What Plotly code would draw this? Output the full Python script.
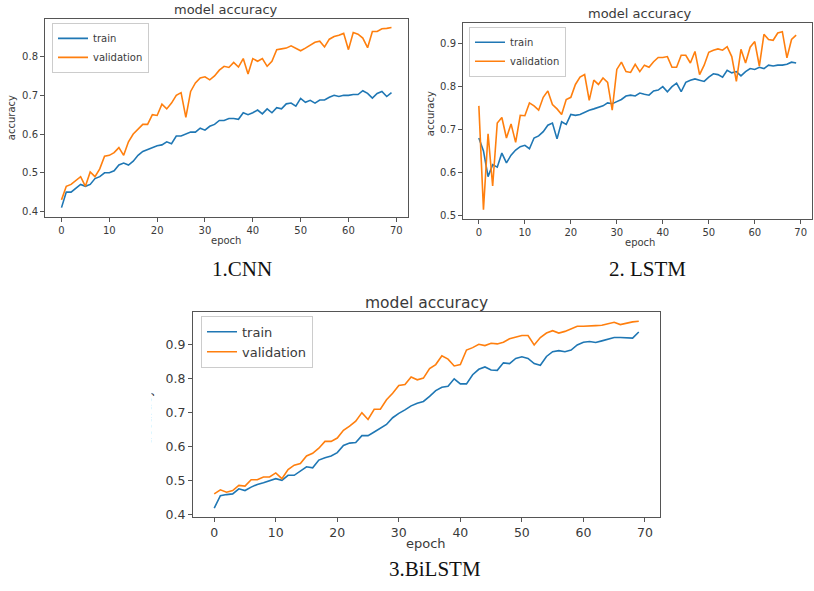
import plotly.graph_objects as go

W, H = 814, 591

epochs = list(range(70))

cnn_train = [0.41, 0.45, 0.45, 0.46, 0.47, 0.465, 0.47, 0.485, 0.49, 0.50,
             0.50, 0.505, 0.52, 0.525, 0.52, 0.53, 0.545, 0.555, 0.56, 0.565,
             0.57, 0.572, 0.58, 0.575, 0.595, 0.595, 0.60, 0.605, 0.605, 0.615,
             0.61, 0.62, 0.625, 0.635, 0.635, 0.64, 0.64, 0.638, 0.655, 0.65,
             0.655, 0.662, 0.652, 0.665, 0.655, 0.668, 0.665, 0.678, 0.68, 0.672,
             0.692, 0.682, 0.687, 0.68, 0.688, 0.688, 0.695, 0.70, 0.697, 0.70,
             0.70, 0.702, 0.702, 0.712, 0.705, 0.693, 0.705, 0.71, 0.697, 0.707]
cnn_val = [0.43, 0.465, 0.47, 0.48, 0.49, 0.465, 0.502, 0.49, 0.51, 0.543,
           0.545, 0.552, 0.565, 0.545, 0.58, 0.60, 0.612, 0.625, 0.625, 0.65,
           0.648, 0.677, 0.665, 0.68, 0.70, 0.707, 0.643, 0.71, 0.732, 0.745,
           0.748, 0.74, 0.75, 0.765, 0.775, 0.772, 0.785, 0.773, 0.795, 0.755,
           0.795, 0.788, 0.795, 0.775, 0.788, 0.818, 0.82, 0.822, 0.828, 0.822,
           0.815, 0.822, 0.83, 0.837, 0.84, 0.825, 0.845, 0.852, 0.855, 0.86,
           0.818, 0.862, 0.858, 0.848, 0.823, 0.865, 0.865, 0.872, 0.873, 0.875]

lstm_train = [0.68, 0.65, 0.59, 0.618, 0.612, 0.645, 0.622, 0.64, 0.652, 0.66,
              0.663, 0.655, 0.68, 0.685, 0.695, 0.71, 0.715, 0.678, 0.718, 0.712,
              0.735, 0.733, 0.735, 0.74, 0.745, 0.748, 0.752, 0.755, 0.762, 0.76,
              0.765, 0.77, 0.778, 0.78, 0.778, 0.785, 0.782, 0.78, 0.79, 0.792,
              0.80, 0.788, 0.80, 0.808, 0.788, 0.81, 0.815, 0.818, 0.815, 0.812,
              0.822, 0.83, 0.828, 0.822, 0.838, 0.832, 0.835, 0.825, 0.835, 0.842,
              0.84, 0.845, 0.842, 0.85, 0.848, 0.85, 0.85, 0.852, 0.857, 0.855]
lstm_val = [0.755, 0.513, 0.69, 0.568, 0.715, 0.728, 0.68, 0.713, 0.67, 0.733,
            0.732, 0.762, 0.755, 0.745, 0.775, 0.79, 0.758, 0.748, 0.735, 0.77,
            0.775, 0.805, 0.822, 0.828, 0.768, 0.815, 0.805, 0.82, 0.81, 0.745,
            0.84, 0.857, 0.835, 0.833, 0.852, 0.835, 0.85, 0.845, 0.858, 0.868,
            0.868, 0.87, 0.845, 0.845, 0.873, 0.873, 0.855, 0.882, 0.828, 0.85,
            0.88, 0.885, 0.888, 0.885, 0.893, 0.87, 0.812, 0.887, 0.855, 0.892,
            0.905, 0.848, 0.922, 0.91, 0.908, 0.925, 0.928, 0.867, 0.91, 0.92]

bilstm_train = [0.418, 0.455, 0.458, 0.46, 0.475, 0.47, 0.48, 0.488, 0.493, 0.50,
                0.505, 0.50, 0.515, 0.515, 0.528, 0.54, 0.537, 0.56, 0.567, 0.572,
                0.582, 0.603, 0.61, 0.612, 0.632, 0.632, 0.643, 0.655, 0.665, 0.685,
                0.698, 0.708, 0.72, 0.728, 0.733, 0.748, 0.765, 0.775, 0.778, 0.80,
                0.785, 0.785, 0.812, 0.828, 0.835, 0.826, 0.825, 0.847, 0.845, 0.86,
                0.865, 0.86, 0.845, 0.84, 0.866, 0.88, 0.883, 0.88, 0.885, 0.90,
                0.908, 0.91, 0.907, 0.912, 0.917, 0.922, 0.922, 0.92, 0.92, 0.938]
bilstm_val = [0.46, 0.472, 0.465, 0.47, 0.485, 0.483, 0.502, 0.502, 0.51, 0.51,
              0.522, 0.505, 0.532, 0.545, 0.55, 0.572, 0.58, 0.595, 0.615, 0.615,
              0.625, 0.648, 0.66, 0.675, 0.70, 0.68, 0.71, 0.71, 0.738, 0.757,
              0.78, 0.783, 0.805, 0.797, 0.802, 0.83, 0.842, 0.868, 0.858, 0.838,
              0.842, 0.885, 0.892, 0.902, 0.898, 0.905, 0.903, 0.908, 0.918, 0.922,
              0.928, 0.928, 0.9, 0.922, 0.935, 0.942, 0.935, 0.94, 0.948, 0.955,
              0.955, 0.955, 0.957, 0.958, 0.962, 0.967, 0.96, 0.965, 0.968, 0.97]

x_ticks = [0, 10, 20, 30, 40, 50, 60, 70]
cnn_yticks = [0.4, 0.5, 0.6, 0.7, 0.8]
lstm_yticks = [0.5, 0.6, 0.7, 0.8, 0.9]
bilstm_yticks = [0.4, 0.5, 0.6, 0.7, 0.8, 0.9]

captions = ["1.CNN", "2. LSTM", "3.BiLSTM"]
series_names = ["train", "validation"]

BLUE = "#1f77b4"
ORANGE = "#ff7f0e"
TXT = "#3a3a3a"
FRAME = "#555555"

def px(x):
    return x / W

def py(y):
    return 1 - y / H

fig = go.Figure()

panels = [
    dict(train=cnn_train, val=cnn_val, ax="", xr=[-3.45, 72.45], yr=[0.387, 0.8975],
         yt=cnn_yticks, box=(45, 408, 19, 218), fs=10, legend="legend"),
    dict(train=lstm_train, val=lstm_val, ax="2", xr=[-3.45, 72.45], yr=[0.4923, 0.9487],
         yt=lstm_yticks, box=(463, 812, 23, 220), fs=10, legend="legend2"),
    dict(train=bilstm_train, val=bilstm_val, ax="3", xr=[-3.45, 72.45], yr=[0.3904, 0.9976],
         yt=bilstm_yticks, box=(193, 660, 314, 521), fs=12.5, legend="legend3"),
]

for p in panels:
    xa = "x" + p["ax"]
    ya = "y" + p["ax"]
    fig.add_trace(go.Scatter(x=epochs, y=p["train"], mode="lines", name=series_names[0],
                             line=dict(color=BLUE, width=1.6), xaxis=xa, yaxis=ya,
                             legend=p["legend"]))
    fig.add_trace(go.Scatter(x=epochs, y=p["val"], mode="lines", name=series_names[1],
                             line=dict(color=ORANGE, width=1.6), xaxis=xa, yaxis=ya,
                             legend=p["legend"]))
    l, r, t, b = p["box"]
    axcommon = dict(showgrid=False, zeroline=False, showline=True, mirror=True,
                    linecolor=FRAME, linewidth=1, ticks="outside", ticklen=4,
                    tickcolor=FRAME, tickfont=dict(family="DejaVu Sans", size=p["fs"], color=TXT))
    fig.update_layout(**{
        "xaxis" + p["ax"]: dict(domain=[px(l), px(r)], range=p["xr"], tickvals=x_ticks,
                                anchor=ya, **axcommon),
        "yaxis" + p["ax"]: dict(domain=[py(b), py(t)], range=p["yr"], tickvals=p["yt"],
                                tickformat=".1f", anchor=xa, **axcommon),
    })

annotations = []

def text(x, y, s, size, family="DejaVu Sans", color=TXT, angle=0):
    annotations.append(dict(x=px(x), y=py(y), xref="paper", yref="paper", text=s,
                            showarrow=False, xanchor="center", yanchor="middle",
                            textangle=angle, font=dict(family=family, size=size, color=color)))

# titles
text(226, 10, "model accuracy", 13)
text(640, 14, "model accuracy", 13)
text(426, 305, "model accuracy", 15.5)
# x labels
text(226, 242, "epoch", 10)
text(640, 244, "epoch", 10)
text(426, 547, "epoch", 13)
# y labels
text(11, 119, "accuracy", 10, angle=-90)
text(430, 115, "accuracy", 10, angle=-90)
text(147, 420, "accuracy", 12, angle=-90)
# white cover for cropped label of panel 3
annotations.append(dict(x=0, y=py(360), xref="paper", yref="paper", text=" ",
                        showarrow=False, xanchor="left", yanchor="top",
                        width=150, height=120, bgcolor="white", borderpad=0))
# captions
text(242, 271, captions[0], 21, family="Liberation Serif", color="#111111")
text(647, 271, captions[1], 21, family="Liberation Serif", color="#111111")
text(435, 573, captions[2], 21, family="Liberation Serif", color="#111111")

legcommon = dict(xanchor="left", yanchor="top", bgcolor="white", bordercolor="#cccccc",
                 borderwidth=1, itemwidth=30, tracegroupgap=0)

fig.update_layout(
    width=W, height=H, autosize=False,
    margin=dict(l=0, r=0, t=0, b=0),
    paper_bgcolor="white", plot_bgcolor="white",
    annotations=annotations,
    legend=dict(x=px(52), y=py(23), font=dict(family="DejaVu Sans", size=10, color=TXT), **legcommon),
    legend2=dict(x=px(469), y=py(27), font=dict(family="DejaVu Sans", size=10, color=TXT), **legcommon),
    legend3=dict(x=px(201), y=py(318), font=dict(family="DejaVu Sans", size=13, color=TXT), **legcommon),
)

fig.write_html("out.html",
               config={"displayModeBar": False},
               post_script="document.body.style.margin='0';document.body.style.overflow='hidden';")
